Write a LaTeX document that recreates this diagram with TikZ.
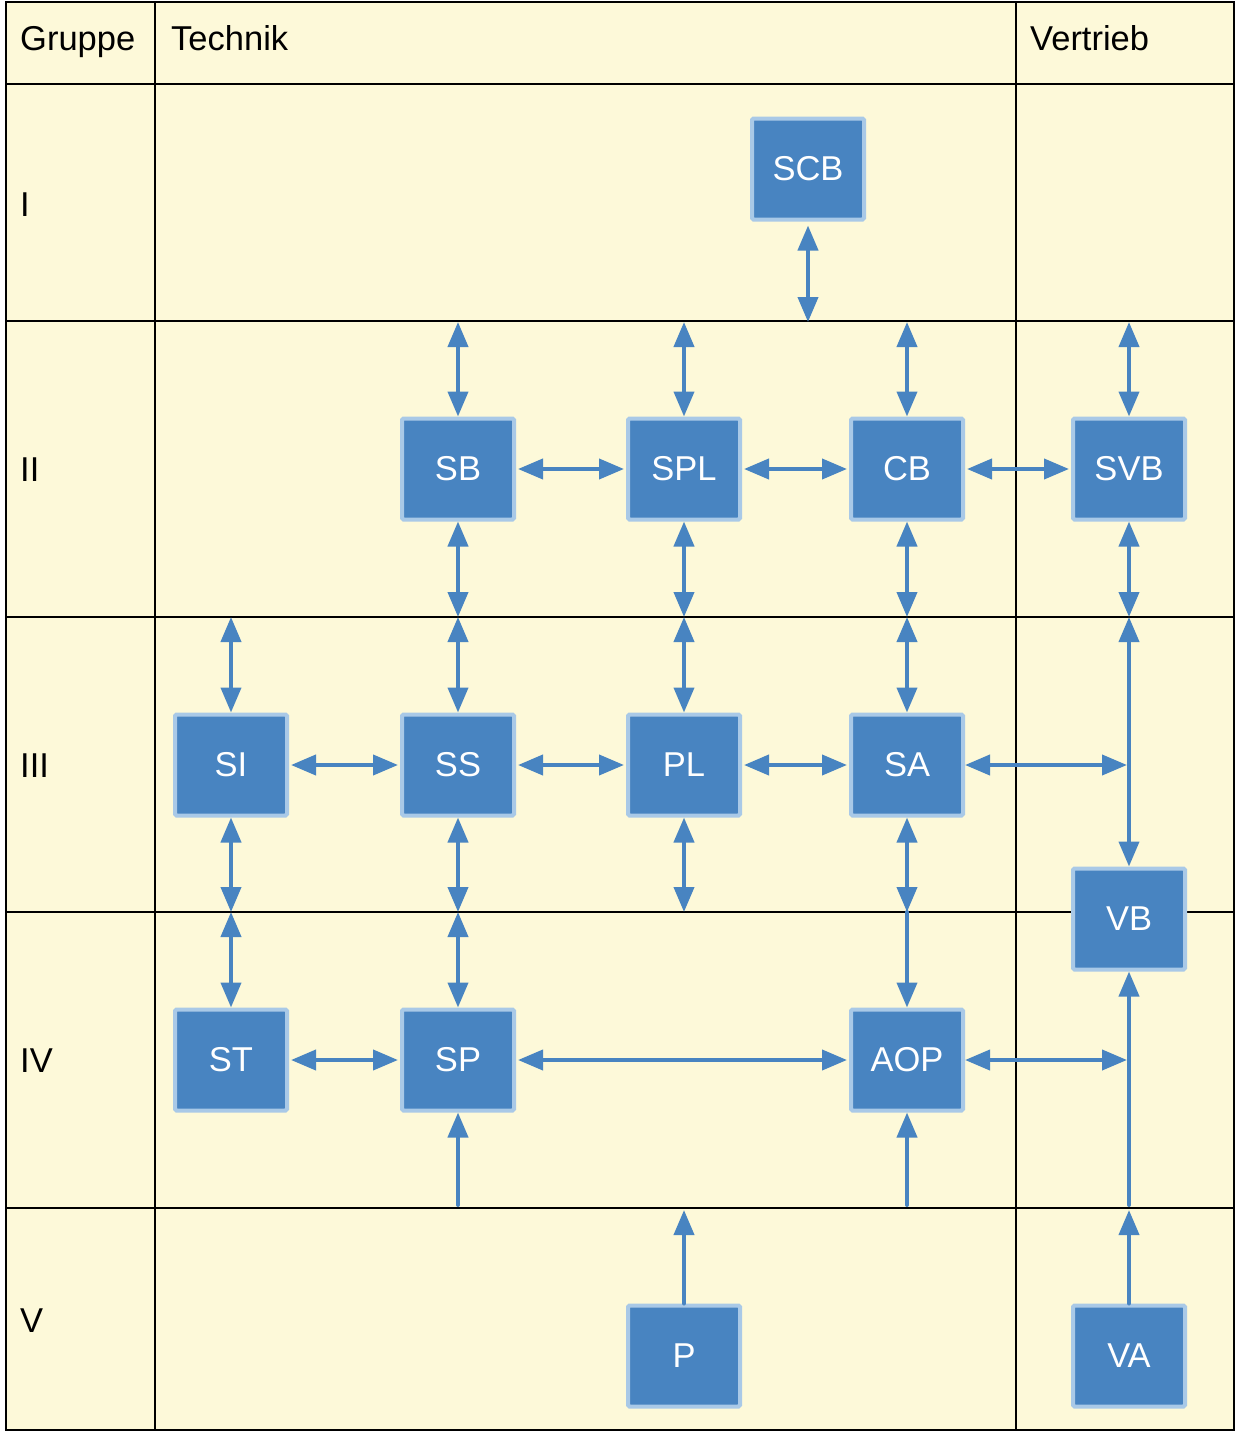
\documentclass[tikz,border=0pt]{standalone}
\usepackage{fontspec}
\setmainfont{Liberation Sans}
\usetikzlibrary{arrows.meta}
\definecolor{bg}{HTML}{FDF9D9}
\definecolor{bfill}{HTML}{4884C1}
\definecolor{bborder}{HTML}{A9C9E7}
\begin{document}
\begin{tikzpicture}[x=1pt,y=-1pt,
  box/.style={draw=bborder, fill=bfill, line width=4pt, minimum width=112pt, minimum height=101pt, rounded corners=1.5pt, text=white, font=\fontsize{34.5}{40}\selectfont, inner sep=0pt},
  lab/.style={anchor=base west, font=\fontsize{34.5}{40}\selectfont, inner sep=0pt},
  con/.style={draw=bfill, line width=4pt, line cap=round},
  dbl/.style={con, {Triangle[length=25pt,width=20pt]}-{Triangle[length=25pt,width=20pt]}},
  sgl/.style={con, -{Triangle[length=25pt,width=20pt]}},
  gridline/.style={line width=2pt, draw=black}]
\useasboundingbox (0,0) rectangle (1236,1432);
\fill[white] (0,0) rectangle (1236,1432);
\fill[bg] (6,2) rectangle (1234,1430);
% grid
\draw[gridline] (6,2) rectangle (1234,1430);
\foreach \y in {84,321,617,912,1208} \draw[gridline] (6,\y) -- (1234,\y);
\foreach \x in {155,1016} \draw[gridline] (\x,2) -- (\x,1430);
% labels
\node[lab] (hG) at (20,50) {Gruppe};
\node[lab] (hT) at (171,50) {Technik};
\node[lab] (hV) at (1030,50) {Vertrieb};
\node[lab] (l1) at (20,216) {I};
\node[lab] (l2) at (20,481) {II};
\node[lab] (l3) at (20,777) {III};
\node[lab] (l4) at (20,1072) {IV};
\node[lab] (l5) at (20,1332) {V};
% boxes
\node[box] (SCB) at (808,169) {SCB};
\node[box] (SB) at (458,469) {SB};
\node[box] (SPL) at (684,469) {SPL};
\node[box] (CB) at (907,469) {CB};
\node[box] (SVB) at (1129,469) {SVB};
\node[box] (SI) at (231,765) {SI};
\node[box] (SS) at (458,765) {SS};
\node[box] (PL) at (684,765) {PL};
\node[box] (SA) at (907,765) {SA};
\node[box] (VB) at (1129,919) {VB};
\node[box] (ST) at (231,1060) {ST};
\node[box] (SP) at (458,1060) {SP};
\node[box] (AOP) at (907,1060) {AOP};
\node[box] (P) at (684,1356) {P};
\node[box] (VA) at (1129,1356) {VA};
% free ends
\coordinate (scbE) at (808,322);
\coordinate (t1) at (458,322);
\coordinate (t2) at (684,322);
\coordinate (t3) at (907,322);
\coordinate (t4) at (1129,322);
\coordinate (m0) at (231,617);
\coordinate (m1) at (458,617);
\coordinate (m2) at (684,617);
\coordinate (m3) at (907,617);
\coordinate (m4) at (1129,617);
\coordinate (n0) at (231,912);
\coordinate (n1) at (458,912);
\coordinate (n2) at (684,912);
\coordinate (n3) at (907,912);
\coordinate (v3) at (1127,765);
\coordinate (v4) at (1127,1060);
\coordinate (q1) at (458,1205);
\coordinate (q3) at (907,1205);
\coordinate (q4) at (1129,1205);
\coordinate (p1) at (684,1210);
\coordinate (p4) at (1129,1210);
% connectors row I/II
\draw[dbl, shorten <=4pt] (SCB.south) -- (scbE);
\draw[dbl] (t1) -- (SB.north);
\draw[dbl] (t2) -- (SPL.north);
\draw[dbl] (t3) -- (CB.north);
\draw[dbl] (t4) -- (SVB.north);
\draw[dbl, shorten <=2pt, shorten >=2pt] (SB.east) -- (SPL.west);
\draw[dbl, shorten <=2pt, shorten >=2pt] (SPL.east) -- (CB.west);
\draw[dbl, shorten <=2pt, shorten >=2pt] (CB.east) -- (SVB.west);
% II/III
\draw[dbl] (SB.south) -- (m1);
\draw[dbl] (m1) -- (SS.north);
\draw[dbl] (SPL.south) -- (m2);
\draw[dbl] (m2) -- (PL.north);
\draw[dbl] (CB.south) -- (m3);
\draw[dbl] (m3) -- (SA.north);
\draw[dbl] (SVB.south) -- (m4);
\draw[dbl] (m4) -- (VB.north);
\draw[dbl] (m0) -- (SI.north);
% row III
\draw[dbl, shorten <=2pt, shorten >=2pt] (SI.east) -- (SS.west);
\draw[dbl, shorten <=2pt, shorten >=2pt] (SS.east) -- (PL.west);
\draw[dbl, shorten <=2pt, shorten >=2pt] (PL.east) -- (SA.west);
\draw[dbl] (SA.east) -- (v3);
% III/IV
\draw[dbl] (SI.south) -- (n0);
\draw[dbl] (n0) -- (ST.north);
\draw[dbl] (SS.south) -- (n1);
\draw[dbl] (n1) -- (SP.north);
\draw[dbl] (PL.south) -- (n2);
\draw[dbl] (SA.south) -- (n3);
\draw[sgl] (n3) -- (AOP.north);
% row IV
\draw[dbl, shorten <=2pt, shorten >=2pt] (ST.east) -- (SP.west);
\draw[dbl, shorten <=2pt, shorten >=2pt] (SP.east) -- (AOP.west);
\draw[dbl] (AOP.east) -- (v4);
\draw[sgl] (q1) -- (SP.south);
\draw[sgl] (q3) -- (AOP.south);
\draw[sgl] (q4) -- (VB.south);
% row V
\draw[sgl] (P.north) -- (p1);
\draw[sgl] (VA.north) -- (p4);
\end{tikzpicture}
\end{document}
